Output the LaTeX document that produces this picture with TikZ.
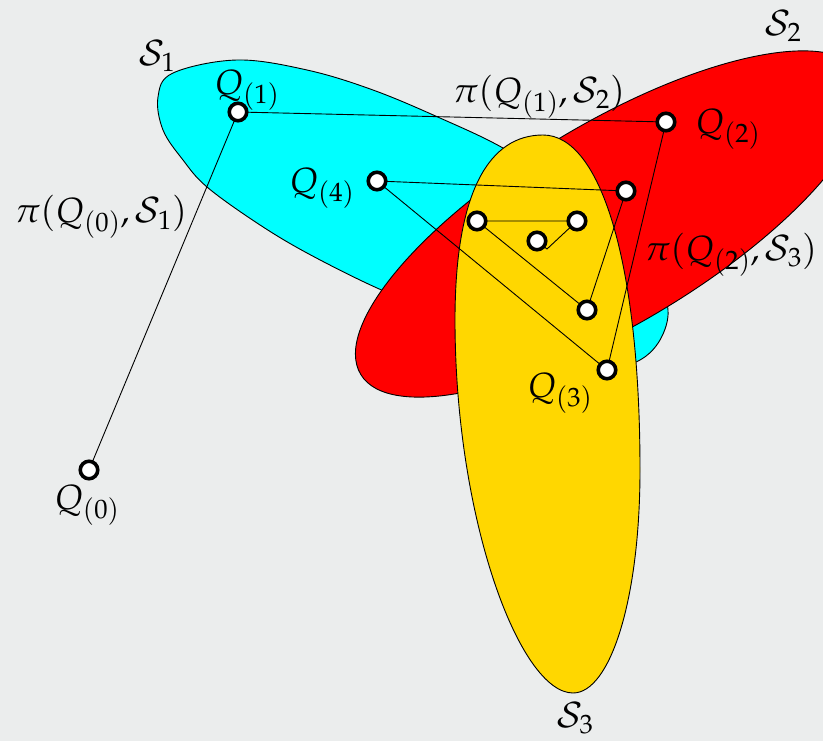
\documentclass[tikz,border=0pt]{standalone}
\usepackage{mathpazo}
\definecolor{bgpaper}{RGB}{235,237,237}
\definecolor{sone}{RGB}{0,255,255}
\definecolor{stwo}{RGB}{255,0,0}
\definecolor{sthree}{RGB}{255,215,0}
\begin{document}
\begin{tikzpicture}[x=1pt,y=-1pt,
  setshape/.style={draw=black, line width=0.9pt},
  link/.style={draw=black, line width=0.9pt},
  pt/.style={circle, draw=black, fill=white, line width=3.6pt, minimum size=17.5pt, inner sep=0pt},
  lab/.style={font=\fontsize{35}{42}\selectfont, inner sep=0pt}]
\fill[bgpaper] (0,0) rectangle (823,741);
\useasboundingbox (0,0) rectangle (823,741);
% S1 (cyan)
\path[setshape, fill=sone] plot[smooth cycle, tension=0.6] coordinates {
 (237,60) (307,70) (373,90) (440,118) (503,148) (565,188) (620,235) (655,275)
 (668,310) (660,340) (640,360) (612,366) (560,355) (500,335) (440,313) (377,288)
 (307,253) (257,223) (207,187) (183,160) (163,130) (158,97) (173,73)};
% S2 (red)
\draw[setshape, fill=stwo, shift={(611,224)}, rotate=31] (0,0) ellipse [x radius=292, y radius=100];
% S3 (yellow)
\path[setshape, fill=sthree] (543,135) .. controls (600,135) and (640,260) .. (640,470)
  .. controls (640,600) and (610,693) .. (573,693)
  .. controls (520,693) and (455,520) .. (455,320)
  .. controls (455,190) and (490,135) .. cycle;
% points
\coordinate (cQ0) at (89,470);
\coordinate (cQ1) at (238,112);
\coordinate (cQ2) at (666,122);
\coordinate (cQ4) at (377,181);
\coordinate (cPa) at (626,191);
\coordinate (cPb) at (477,221);
\coordinate (cPc) at (577,221);
\coordinate (cPd) at (537,241);
\coordinate (cPe) at (587,310);
\coordinate (cQ3) at (607,370);
\coordinate (pdend) at (547,249);
% connectors
\draw[link] (cQ0) -- (cQ1) -- (cQ2) -- (cQ3) -- (cQ4) -- (cPa) -- (cPe) -- (cPb) -- (cPc) -- (pdend) -- (cPd);
% circles
\foreach \p in {Q0,Q1,Q2,Q3,Q4,Pa,Pb,Pc,Pd,Pe} \node[pt] (n\p) at (c\p) {};
% labels
\node[lab] (lS1) at (157,56) {$\mathcal{S}_1$};
\node[lab] (lS2) at (783,26) {$\mathcal{S}_2$};
\node[lab, anchor=base] (lS3) at (575,727) {$\mathcal{S}_3$};
\node[lab] (lQ0) at (87,505) {$Q_{(0)}$};
\node[lab] (lQ1) at (247,90) {$Q_{(1)}$};
\node[lab] (lQ2) at (728,129) {$Q_{(2)}$};
\node[lab] (lQ3) at (560,393) {$Q_{(3)}$};
\node[lab] (lQ4) at (322,188) {$Q_{(4)}$};
\node[lab] (lp0) at (101,217) {$\pi(Q_{(0)},\mathcal{S}_1)$};
\node[lab] (lp1) at (539,97) {$\pi(Q_{(1)},\mathcal{S}_2)$};
\node[lab] (lp2) at (731,255) {$\pi(Q_{(2)},\mathcal{S}_3)$};
\end{tikzpicture}
\end{document}
